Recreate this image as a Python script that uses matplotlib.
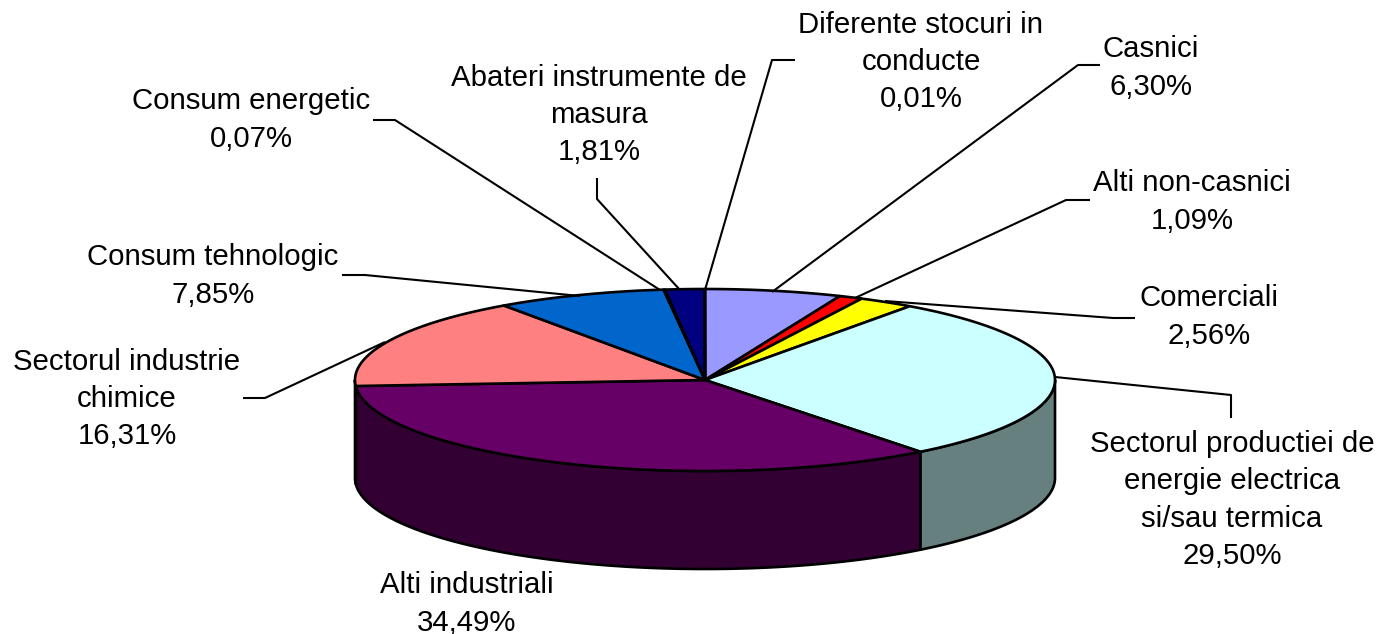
import numpy as np
import matplotlib
matplotlib.use('Agg')
import matplotlib.pyplot as plt
from matplotlib.patches import Polygon

plt.rcParams['font.family'] = ['Liberation Sans', 'DejaVu Sans']

# clockwise from 12 o'clock
labels = ['Casnici', 'Alti non-casnici', 'Comerciali',
          'Sectorul productiei de\nenergie electrica\nsi/sau termica',
          'Alti industriali', 'Sectorul industrie\nchimice', 'Consum tehnologic',
          'Consum energetic', 'Abateri instrumente de\nmasura',
          'Diferente stocuri in\nconducte']
values = [6.30, 1.09, 2.56, 29.50, 34.49, 16.31, 7.85, 0.07, 1.81, 0.01]
value_labels = ['6,30%', '1,09%', '2,56%', '29,50%', '34,49%', '16,31%', '7,85%', '0,07%', '1,81%', '0,01%']
top_colors = ['#9999FF', '#FF0000', '#FFFF00', '#CCFFFF', '#660066', '#FF8080', '#0066CC', '#000080', '#000080', '#000080']
side_colors = ['#4D4D80', '#800000', '#808000', '#668080', '#330033', '#804040', '#003366', '#000040', '#000040', '#000040']

# label centres and leader lines, in pixels of the picture
label_pos = [(1151, 68), (1192, 202), (1209, 317), (1232, 500), (467, 604),
             (127, 399), (213, 276), (251, 120), (599, 115), (921, 62)]
leaders = [[(1100, 65), (1078, 65), (772, 292)],
           [(1090, 200), (1066, 200), (855, 298)],
           [(1135, 318), (1113, 318), (885, 301)],
           [(1231, 418), (1231, 395), (1055, 377)],
           None,
           [(243, 398), (265, 398), (385, 342)],
           [(342, 275), (365, 275), (580, 296)],
           [(373, 120), (395, 120), (660, 290)],
           [(597, 178), (597, 199), (680, 290)],
           [(795, 60), (772, 60), (705, 290)]]

cx, cy = 705, 380
rx, ry = 350, 91
depth = 98
lw = 1.9

fig = plt.figure(figsize=(13.78, 6.34), dpi=100)
ax = fig.add_axes([0, 0, 1, 1])
ax.set_xlim(0, 1378)
ax.set_ylim(634, 0)
ax.axis('off')


def rim(t):
    return cx + rx * np.sin(t), cy - ry * np.cos(t)


edges = np.radians(np.cumsum([0] + values) / sum(values) * 360)

# side wall first, only the front half is visible
for i in range(len(values)):
    a = max(edges[i], np.pi / 2)
    b = min(edges[i + 1], 3 * np.pi / 2)
    if b <= a:
        continue
    t = np.linspace(a, b, 120)
    x, y = rim(t)
    pts = list(zip(x, y)) + list(zip(x[::-1], y[::-1] + depth))
    ax.add_patch(Polygon(pts, closed=True, fc=side_colors[i], ec='black', lw=lw, joinstyle='round'))

# top face
for i in range(len(values)):
    t = np.linspace(edges[i], edges[i + 1], 120)
    x, y = rim(t)
    pts = [(cx, cy)] + list(zip(x, y))
    ax.add_patch(Polygon(pts, closed=True, fc=top_colors[i], ec='black', lw=lw, joinstyle='round'))

for i in range(len(labels)):
    if leaders[i] is not None:
        xs, ys = zip(*leaders[i])
        ax.plot(xs, ys, color='black', lw=1.5, solid_capstyle='butt')
    ax.text(label_pos[i][0], label_pos[i][1], labels[i] + '\n' + value_labels[i],
            ha='center', va='center', ma='center', fontsize=21.2, color='black', linespacing=1.43)

fig.savefig('out.png', dpi=100, facecolor='white')
